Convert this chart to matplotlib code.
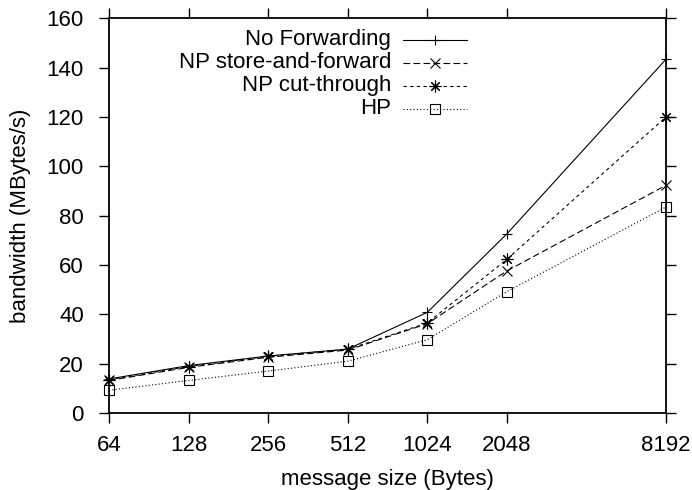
import matplotlib
matplotlib.use("Agg")
import matplotlib.pyplot as plt
from matplotlib.lines import Line2D

plt.rcParams['font.family'] = ['Liberation Sans', 'DejaVu Sans']

sizes = [64, 128, 256, 512, 1024, 2048, 8192]
tick_labels = ["64", "128", "256", "512", "1024", "2048", "8192"]
no_forwarding = [13.8, 19.2, 23.1, 25.9, 40.8, 72.6, 143.4]
np_store_forward = [13.2, 18.5, 22.6, 25.5, 36.2, 57.6, 92.3]
np_cut_through = [13.5, 18.8, 23.0, 25.8, 36.5, 62.3, 120.0]
hp = [9.2, 13.2, 17.0, 21.0, 29.7, 49.2, 83.5]
series_names = ["No Forwarding", "NP store-and-forward", "NP cut-through", "HP"]

fig = plt.figure(figsize=(6.92, 4.90), dpi=100)
ax = fig.add_axes([109/692, 1-413/490, (666-109)/692, (413-18.3)/490])

lw = 0.8
styles = [
    dict(ls='-', marker='+', ms=7, mew=0.8),
    dict(ls=(0, (6, 3)), marker='x', ms=6.5, mew=0.8),
    dict(ls=(0, (3, 3)), marker=(8, 2, 0), ms=8.5, mew=0.8),
    dict(ls=(0, (1, 2)), marker='s', ms=7, mew=0.8, mfc='none'),
]
data = [no_forwarding, np_store_forward, np_cut_through, hp]
for vals, st in zip(data, styles):
    ax.plot(sizes, vals, color='black', lw=lw, clip_on=False, **st)

ax.set_xscale('log', base=2)
ax.set_xlim(64, 8192)
ax.set_ylim(0, 160)
ax.set_xticks(sizes)
ax.set_xticklabels(tick_labels)
ax.minorticks_off()
ax.set_yticks(range(0, 161, 20))
ax.tick_params(axis='both', direction='out', length=7, width=1, labelsize=16,
               top=True, right=True)
ax.tick_params(axis='y', pad=11)
ax.tick_params(axis='x', pad=9)
for sp in ax.spines.values():
    sp.set_linewidth(1.3)

ax.set_xlabel("message size (Bytes)", fontsize=16, labelpad=9)
ax.set_ylabel("bandwidth (MBytes/s)", fontsize=16, labelpad=11)

# gnuplot-style key: text right-aligned, sample to the right
ytop = 40
for i, (name, st) in enumerate(zip(series_names, styles)):
    ypix = ytop + i * 23
    yf = 1 - ypix / 490
    fig.text(391/692, yf, name, ha='right', va='center', fontsize=16)
    fig.add_artist(Line2D([403/692, 467/692], [yf, yf], color='black', lw=lw,
                          ls=st['ls'], transform=fig.transFigure))
    fig.add_artist(Line2D([435/692], [yf], color='black', lw=0,
                          marker=st['marker'], ms=st['ms'], mew=st['mew'],
                          mfc=st.get('mfc', 'black'), transform=fig.transFigure))

fig.savefig("out.png", dpi=100)
